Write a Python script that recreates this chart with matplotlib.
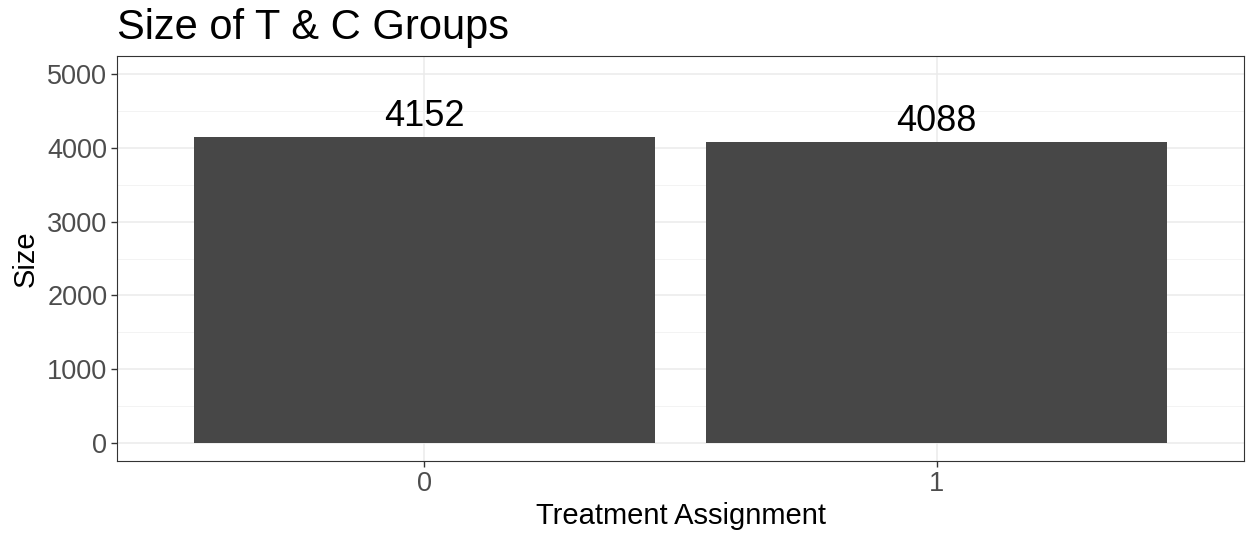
import matplotlib.pyplot as plt
from matplotlib.ticker import MultipleLocator

# Data
groups = ['0', '1']
sizes = [4152, 4088]

plt.rcParams['font.family'] = ['Liberation Sans', 'DejaVu Sans']

W, H = 1246, 533
fig = plt.figure(figsize=(W / 100, H / 100), dpi=100)
ax = fig.add_axes([117 / W, 1 - 461 / H, (1244 - 117) / W, (461 - 56) / H])

x = list(range(len(groups)))
ax.bar(x, sizes, width=0.9, color='#474747', zorder=3)

for xi, v in zip(x, sizes):
    ax.annotate(str(v), (xi, v), textcoords='offset points', xytext=(0, 2),
                ha='center', va='bottom', fontsize=26, color='black', zorder=4)

ax.set_xlim(-0.6, 1.6)
ax.set_ylim(-250, 5250)
ax.set_xticks(x)
ax.set_xticklabels(groups)
ax.set_yticks(range(0, 5001, 1000))
ax.yaxis.set_minor_locator(MultipleLocator(500))

ax.grid(True, which='major', color='#EBEBEB', linewidth=1.1, zorder=0)
ax.grid(True, which='minor', axis='y', color='#F3F3F3', linewidth=0.7, zorder=0)
ax.tick_params(which='minor', length=0)
ax.tick_params(which='major', length=4, width=1, color='#333333',
               labelsize=19.5, labelcolor='#4D4D4D', pad=3)

for s in ax.spines.values():
    s.set_color('#333333')
    s.set_linewidth(0.8)

ax.set_xlabel('Treatment Assignment', fontsize=21, color='black', labelpad=4)
ax.set_ylabel('Size', fontsize=21, color='black', labelpad=5)

fig.text(117 / W, 1 - 39 / H, 'Size of T & C Groups', fontsize=30,
         ha='left', va='baseline', color='black')

fig.savefig('out.png', dpi=100)
